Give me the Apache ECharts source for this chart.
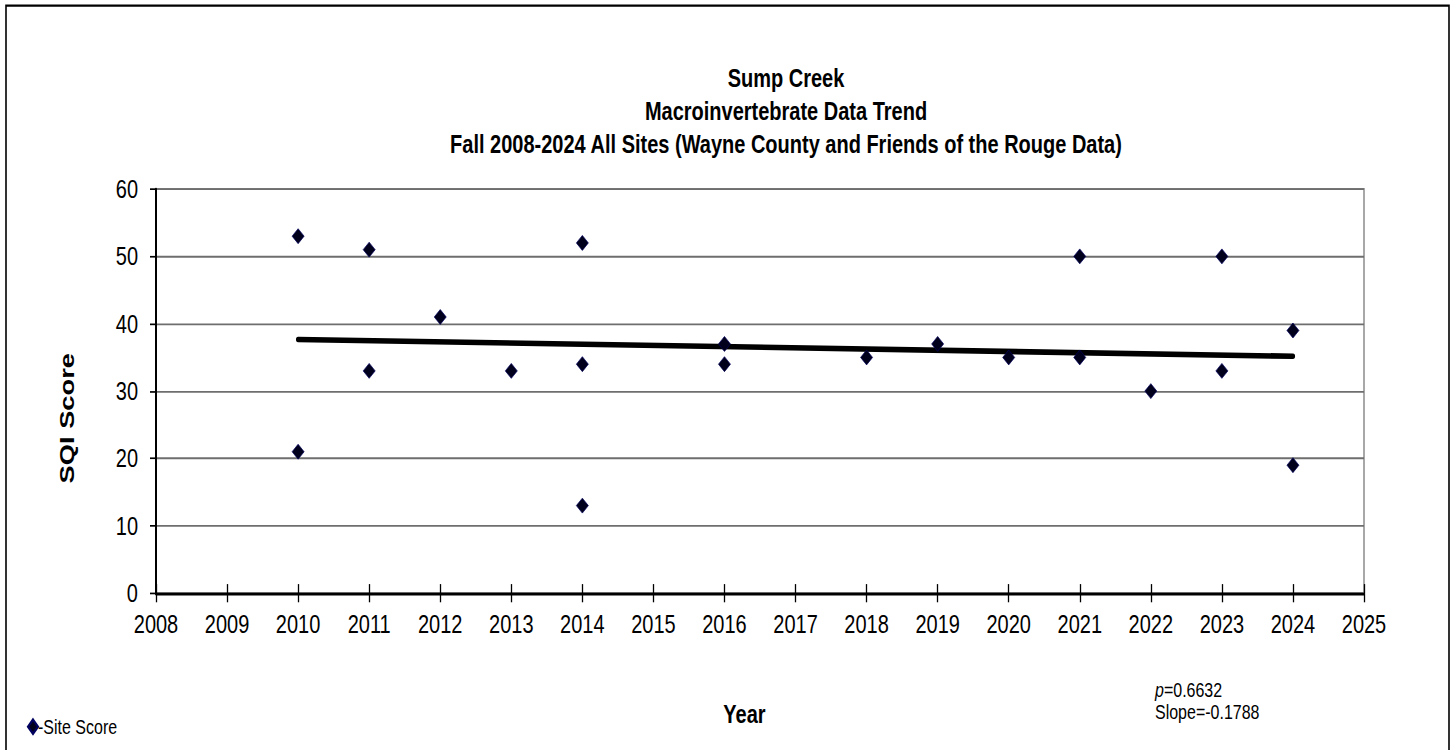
<!DOCTYPE html>
<html>
<head>
<meta charset="utf-8">
<title>Sump Creek Macroinvertebrate Data Trend</title>
<script src="https://cdn.jsdelivr.net/npm/echarts@6/dist/echarts.min.js"></script>
<style>
  html, body { margin: 0; padding: 0; background: #fff; }
  #page { position: relative; width: 1453px; height: 750px; overflow: hidden; background: #fff; }
  /* the chart is laid out at a shorter height and stretched vertically */
  #chart { position: absolute; left: 0; top: 0; width: 1453px; height: 577px;
           transform: scaleY(1.3); transform-origin: 0 0; }
</style>
</head>
<body>
<div id="page"><div id="chart"></div></div>
<script>
// Site scores by sampling year (fall surveys)
const years  = [2010, 2010, 2011, 2011, 2012, 2013, 2014, 2014, 2014, 2016, 2016,
                2018, 2019, 2020, 2021, 2021, 2022, 2023, 2023, 2024, 2024];
const scores = [53, 21, 51, 33, 41, 33, 52, 34, 13, 37, 34,
                35, 37, 35, 50, 35, 30, 50, 33, 39, 19];

// Reported regression statistics
const pValue = '0.6632';
const slope = -0.1788;

const titleLines = [
  'Sump Creek',
  'Macroinvertebrate Data Trend',
  'Fall 2008-2024 All Sites (Wayne County and Friends of the Rouge Data)'
];

const FONT = '"Liberation Sans", Arial, Helvetica, sans-serif';

// Trend line: reported slope through the mean of the data
const meanX = years.reduce((a, b) => a + b, 0) / years.length;
const meanY = scores.reduce((a, b) => a + b, 0) / scores.length;
const x0 = Math.min(...years), x1 = Math.max(...years);
const trend = [x0, x1].map(x => [x, meanY + slope * (x - meanX)]);

const points = years.map((y, i) => [y, scores[i]]);

const chart = echarts.init(document.getElementById('chart'), null, { renderer: 'svg' });

chart.setOption({
  backgroundColor: '#fff',
  animation: false,
  title: {
    text: titleLines.join('\n'),
    left: 781,
    top: 42,
    textAlign: 'center',
    textStyle: { fontFamily: FONT, fontSize: 20, fontWeight: 'bold', color: '#000', lineHeight: 25.5 }
  },
  grid: {
    left: 156, right: 89, top: 145.4, bottom: 120.7,
    show: true, borderColor: '#8c8c8c', borderWidth: 1.5, backgroundColor: 'transparent'
  },
  legend: {
    data: ['Site Score'],
    left: 22, top: 546,
    icon: 'diamond',
    itemWidth: 10, itemHeight: 11,
    formatter: name => '-' + name,
    textStyle: { fontFamily: FONT, fontSize: 16, color: '#000', padding: [0, 0, 0, -5] }
  },
  xAxis: [{
    type: 'value', min: 2008, max: 2025, interval: 1,
    axisLine: { show: true, onZero: false, lineStyle: { color: '#000', width: 2 } },
    axisTick: { show: true, inside: false, length: 7, lineStyle: { color: '#000', width: 1.3 } },
    axisLabel: { margin: 14, fontFamily: FONT, fontSize: 20, color: '#000', formatter: v => String(v) },
    splitLine: { show: false }
  }, {
    // inner half of the crossing tick marks
    type: 'value', min: 2008, max: 2025, interval: 1, position: 'bottom',
    axisLine: { show: false },
    axisTick: { show: true, inside: true, length: 7, lineStyle: { color: '#000', width: 1.3 } },
    axisLabel: { show: false },
    splitLine: { show: false }
  }],
  yAxis: {
    type: 'value', min: 0, max: 60, interval: 10,
    axisLine: { show: true, onZero: false, lineStyle: { color: '#000', width: 2 } },
    axisTick: { show: true, inside: false, length: 6, lineStyle: { color: '#000', width: 1.3 } },
    axisLabel: { margin: 18, fontFamily: FONT, fontSize: 20, color: '#000' },
    splitLine: { show: true, lineStyle: { color: '#6e6e6e', width: 1.4 } }
  },
  graphic: [
    {
      type: 'rect', silent: true, z: -10,
      shape: { x: 6, y: 4.3, width: 1443, height: 800 },
      style: { fill: 'none', stroke: '#000', lineWidth: 1.6 }
    },
    {
      type: 'text', silent: true,
      x: 67, y: 321.7, rotation: Math.PI / 2,
      style: {
        text: 'SQI Score', font: 'bold 21px ' + FONT, fill: '#000',
        textAlign: 'center', textVerticalAlign: 'middle'
      }
    },
    {
      type: 'text', silent: true,
      x: 744.5, y: 549,
      style: {
        text: 'Year', font: 'bold 20px ' + FONT, fill: '#000',
        textAlign: 'center', textVerticalAlign: 'middle'
      }
    },
    {
      type: 'text', silent: true,
      x: 1155, y: 522,
      style: {
        text: '{i|p}=' + pValue + '\nSlope=' + slope,
        fontFamily: FONT, fontSize: 16, fill: '#000', lineHeight: 17,
        rich: { i: { fontStyle: 'italic', fontFamily: FONT, fontSize: 16, fill: '#000' } }
      }
    }
  ],
  series: [
    {
      name: 'Trend',
      type: 'line',
      data: trend,
      symbol: 'none',
      z: 2,
      lineStyle: { color: '#000', width: 4.3, cap: 'round' },
      silent: true
    },
    {
      name: 'Site Score',
      type: 'scatter',
      data: points,
      symbol: 'diamond',
      symbolSize: [12, 11.5],
      z: 3,
      itemStyle: { color: '#00001c', borderColor: '#000060', borderWidth: 0.6, opacity: 1 }
    }
  ]
});
</script>
</body>
</html>
